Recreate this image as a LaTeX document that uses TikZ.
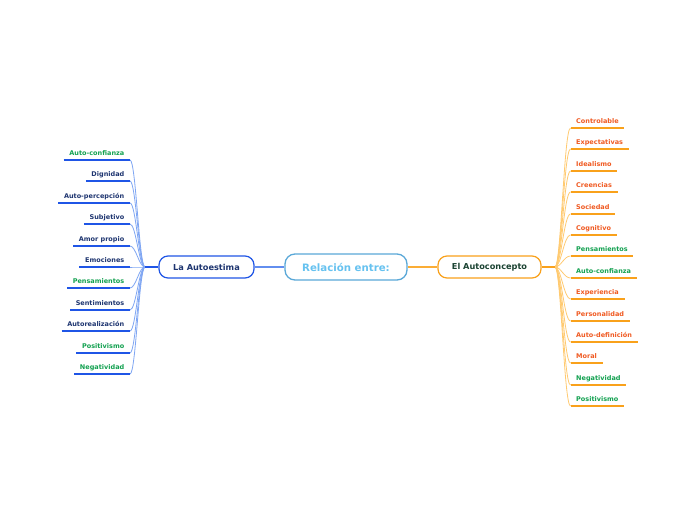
\documentclass[tikz,border=0pt]{standalone}
\usepackage{fontspec}
\setmainfont{DejaVu Sans}
\definecolor{navy}{HTML}{1E3570}
\definecolor{grn}{HTML}{12A150}
\definecolor{org}{HTML}{F05A22}
\definecolor{blueA}{HTML}{1F55E6}
\definecolor{blueL}{HTML}{7FA6F3}
\definecolor{orgA}{HTML}{F9A11B}
\definecolor{orgL}{HTML}{FFCA70}
\definecolor{cboxc}{HTML}{5AA8D8}
\definecolor{ctext}{HTML}{66C2F0}
\definecolor{dgreen}{HTML}{1B4332}
\tikzset{
  leaf/.style={font=\fontsize{6.5}{7.5}\selectfont\bfseries, inner xsep=5.5pt, inner ysep=2.8pt, text height=4.8pt, text depth=1.6pt},
  centerbox/.style={draw=cboxc, line width=1.3pt, rounded corners=10pt, minimum width=122pt, minimum height=26pt, text=ctext, font=\fontsize{10.2}{12}\selectfont\bfseries, fill=white},
  lbox/.style={draw=blueA, line width=1.2pt, rounded corners=9pt, minimum width=95pt, minimum height=22pt, text=navy, font=\fontsize{8.2}{10}\selectfont\bfseries, fill=white},
  rbox/.style={draw=orgA, line width=1.2pt, rounded corners=9pt, minimum width=103pt, minimum height=22pt, text=dgreen, font=\fontsize{8.2}{10}\selectfont\bfseries, fill=white},
  lline/.style={draw=blueL!70!blueA, line width=1.2pt},
  rline/.style={draw=orgA!70!orgL, line width=1.2pt},
  lstem/.style={draw=blueA, line width=1.8pt},
  rstem/.style={draw=orgA, line width=1.8pt},
  lcurve/.style={draw=blueL, line width=0.8pt},
  rcurve/.style={draw=orgL, line width=0.8pt},
  luline/.style={draw=blueA, line width=1.8pt},
  ruline/.style={draw=orgA, line width=1.8pt},
}
\begin{document}
\begin{tikzpicture}[x=1pt,y=-1pt]
\useasboundingbox[fill=white] (0,0) rectangle (697,520);
\node[centerbox] (C) at (346,267) {Relación entre:};
\node[lbox] (LA) at (206.5,267) {La Autoestima};
\node[rbox] (RA) at (489.5,267) {El Autoconcepto};
\draw[lline] (LA.east) -- (C.west);
\draw[rline] (C.east) -- (RA.west);
\coordinate (hL) at (145,267);
\coordinate (hR) at (555,267);
\foreach \t/\c [count=\i] in {Auto-confianza/grn, Dignidad/navy, Auto-percepción/navy, Subjetivo/navy, Amor propio/navy, Emociones/navy, Pensamientos/grn, Sentimientos/navy, Autorealización/navy, Positivismo/grn, Negatividad/grn} {
  \pgfmathsetmacro\yy{round(160+(\i-1)*21.4)}
  \node[leaf, text=\c, anchor=south east] (L\i) at (130,\yy) {\t};
  \draw[lcurve] (hL) .. controls (139,267) and (136,\yy) .. (L\i.south east);
}
\foreach \i in {1,...,11} {
  \draw[luline] (L\i.south west) -- (L\i.south east);
}
\draw[lstem] (LA.west) -- (hL);
\foreach \t/\c [count=\i] in {Controlable/org, Expectativas/org, Idealismo/org, Creencias/org, Sociedad/org, Cognitivo/org, Pensamientos/grn, Auto-confianza/grn, Experiencia/org, Personalidad/org, Auto-definición/org, Moral/org, Negatividad/grn, Positivismo/grn} {
  \pgfmathsetmacro\yy{round(128+(\i-1)*21.4)}
  \node[leaf, text=\c, anchor=south west] (R\i) at (570.5,\yy) {\t};
  \draw[rcurve] (hR) .. controls (561,267) and (564,\yy) .. (R\i.south west);
}
\foreach \i in {1,...,14} {
  \draw[ruline] (R\i.south west) -- (R\i.south east);
}
\draw[rstem] (RA.east) -- (hR);
\end{tikzpicture}
\end{document}
